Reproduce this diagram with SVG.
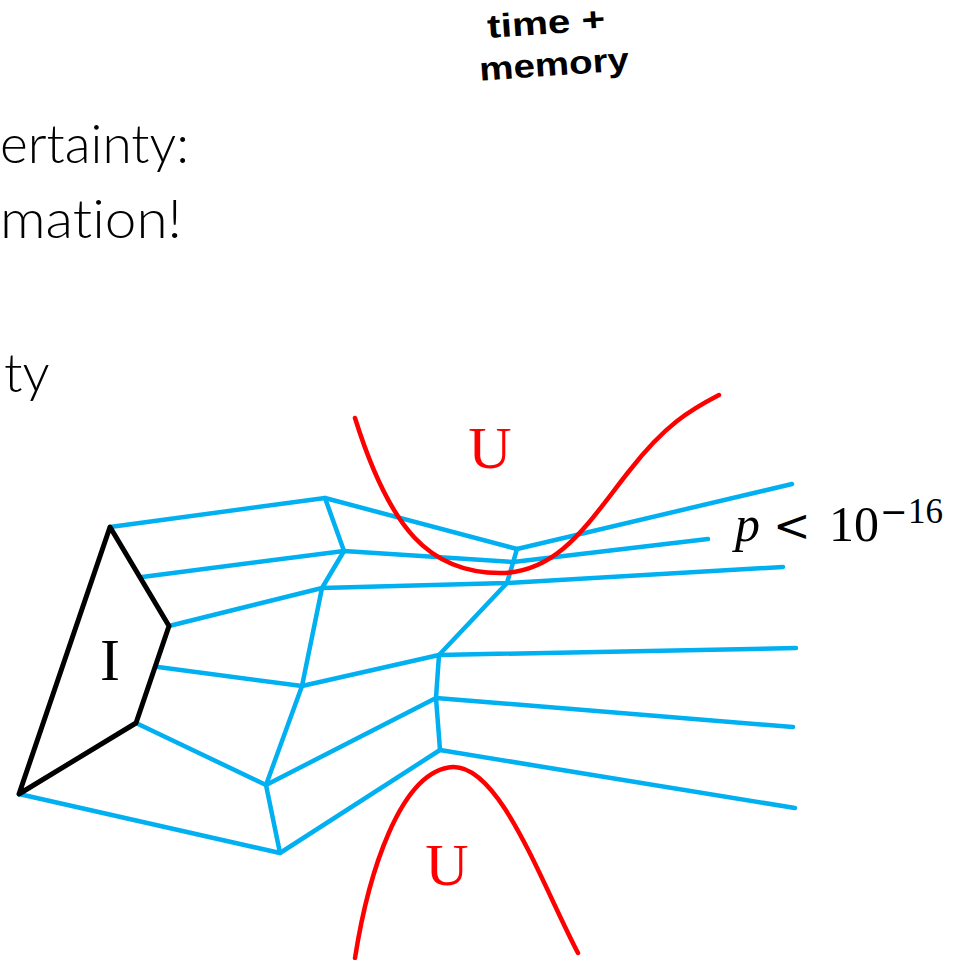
<svg xmlns="http://www.w3.org/2000/svg" width="957" height="960" viewBox="0 0 957 960">
<style>
.edge{fill:none;stroke:#00B0F0;stroke-width:4.5;stroke-linecap:round;stroke-linejoin:round}
.bound{fill:none;stroke:#FF0000;stroke-width:4.5;stroke-linecap:round}
.poly{fill:none;stroke:#000;stroke-width:5;stroke-linejoin:round}
.body{font-family:Lato,"Open Sans","Liberation Sans",sans-serif;font-weight:300;font-size:54px;fill:#000;font-variant-ligatures:none;font-feature-settings:"liga" 0,"clig" 0}
.serif{font-family:"Liberation Serif","DejaVu Serif",serif;font-size:60px}
</style>
<rect width="957" height="960" fill="#fff"/>
<g id="title" transform="translate(488,38) rotate(-4)">
<text font-family="'Liberation Sans',Arial,sans-serif" font-weight="bold" font-size="33" x="0" y="0" textLength="118" lengthAdjust="spacingAndGlyphs">time +</text>
<text font-family="'Liberation Sans',Arial,sans-serif" font-weight="bold" font-size="33" x="-11" y="42" textLength="150" lengthAdjust="spacingAndGlyphs">memory</text>
</g>
<g id="bodytext">
<text class="body" x="0" y="163" textLength="189" lengthAdjust="spacingAndGlyphs">ertainty:</text>
<text class="body" x="0" y="238" textLength="182" lengthAdjust="spacingAndGlyphs">mation!</text>
<text class="body" x="4" y="392">ty</text>
</g>
<g id="connectors">
<polyline class="edge" points="110,527 325,498 517,549 792,484"/>
<line class="edge" x1="325" y1="498" x2="344" y2="551"/>
<polyline class="edge" points="142,577 344,551 513,562 708,539"/>
<line class="edge" x1="517" y1="549" x2="507" y2="583"/>
<line class="edge" x1="344" y1="551" x2="322" y2="588"/>
<polyline class="edge" points="169,626 322,588 507,583 783,567"/>
<line class="edge" x1="322" y1="588" x2="302" y2="686"/>
<polyline class="edge" points="158,667 302,686 439,655 796,648"/>
<line class="edge" x1="507" y1="583" x2="439" y2="655"/>
<polyline class="edge" points="439,655 436,698 440,750"/>
<line class="edge" x1="436" y1="698" x2="793" y2="727"/>
<line class="edge" x1="436" y1="698" x2="266" y2="785"/>
<line class="edge" x1="302" y1="686" x2="266" y2="785"/>
<line class="edge" x1="136" y1="723" x2="266" y2="785"/>
<line class="edge" x1="266" y1="785" x2="280" y2="853"/>
<polyline class="edge" points="19,794 280,853 440,750 795,808"/>
</g>
<g id="node-I">
<polygon class="poly" points="110,527 169,626 136,723 19,794"/>
<text class="serif" x="110" y="680" text-anchor="middle" fill="#000">I</text>
</g>
<g id="node-U-top">
<path class="bound" d="M355,418 C390,530 430,573 500,573 C560,573 590,520 630,470 C665,425 690,410 719,395"/>
<text class="serif" x="490" y="468" text-anchor="middle" fill="#FF0000">U</text>
</g>
<g id="node-U-bottom">
<path class="bound" d="M355,958 C368,875 400,770 453,767 C500,766 540,880 578,953"/>
<text class="serif" x="447" y="885" text-anchor="middle" fill="#FF0000">U</text>
</g>
<g id="label-p">
<text font-family="'Liberation Serif','DejaVu Serif',serif" fill="#000" font-size="50"><tspan x="735" y="541" font-style="italic">p</tspan><tspan x="773" y="541" font-family="'DejaVu Serif',serif" font-size="45">&lt;</tspan><tspan x="829" y="541">10</tspan><tspan x="880" y="523" font-size="33" font-family="'DejaVu Serif',serif">−</tspan><tspan x="908" y="523" font-size="35">16</tspan></text>
</g>
</svg>
